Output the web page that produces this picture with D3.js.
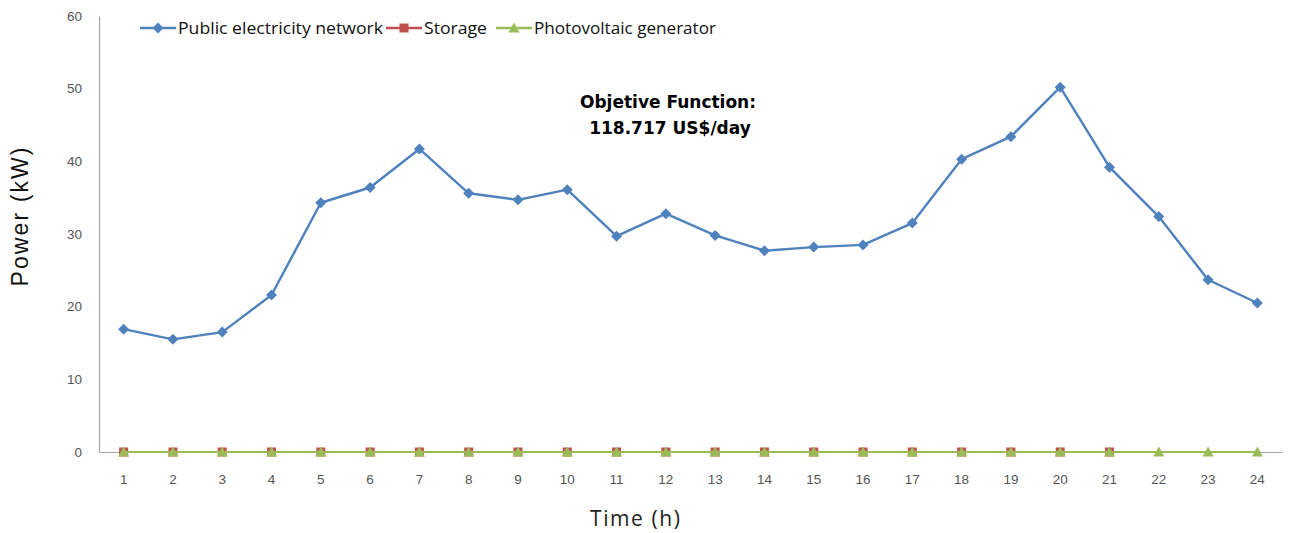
<!DOCTYPE html>
<html>
<head>
<meta charset="utf-8">
<script src="https://cdn.jsdelivr.net/npm/d3@7"></script>
<style>
  body { margin: 0; background: #fff; }
  svg { display: block; font-family: "Open Sans", "Noto Sans", sans-serif; }
</style>
</head>
<body>
<div id="chart"></div>
<script>
    "use strict";

    // hours on the x axis
    var hours = d3.range(1, 25);
    var yTicks = [0, 10, 20, 30, 40, 50, 60];

    var gridPower = [16.9, 15.5, 16.5, 21.6, 34.3, 36.4, 41.7, 35.6, 34.7, 36.1, 29.7, 32.8,
                     29.8, 27.7, 28.2, 28.5, 31.5, 40.3, 43.4, 50.2, 39.2, 32.4, 23.7, 20.5];
    var storagePower = [0, 0, 0, 0, 0, 0, 0, 0, 0, 0, 0, 0, 0, 0, 0, 0, 0, 0, 0, 0, 0];
    var pvPower = [0, 0, 0, 0, 0, 0, 0, 0, 0, 0, 0, 0, 0, 0, 0, 0, 0, 0, 0, 0, 0, 0, 0, 0];

    var seriesNames = ["Public electricity network", "Storage", "Photovoltaic generator"];

    var width = 1290,
        height = 533;
    var margin = {left: 99, right: 8, top: 16, bottom: 81};

    var svg = d3.select("#chart").append("svg")
        .attr("width", width)
        .attr("height", height);

    var x = d3.scaleBand()
        .domain(hours)
        .range([margin.left, width - margin.right])
        .padding(0);
    var y = d3.scaleLinear()
        .domain([0, 60])
        .range([height - margin.bottom, margin.top]);

    var cx = function (h) { return x(h) + x.bandwidth() / 2; };

    // marker shapes
    var diamond = "M0,-5.5L5.5,0L0,5.5L-5.5,0Z";
    var square = "M-4.5,-4.5h9v9h-9z";
    var triangle = "M0,-5.5L5.5,4.5L-5.5,4.5Z";

    // axes
    var yAxis = svg.append("g")
        .attr("transform", "translate(" + margin.left + ",0)")
        .call(d3.axisLeft(y).tickValues(yTicks).tickSize(0).tickPadding(17));
    var xAxis = svg.append("g")
        .attr("transform", "translate(0," + y(0) + ")")
        .call(d3.axisBottom(x).tickSize(0).tickPadding(22));

    [yAxis, xAxis].forEach(function (a) {
        a.select(".domain").attr("stroke", "#a6a6a6").attr("stroke-width", 1.2);
        a.selectAll("text").attr("fill", "#555").style("font-size", "13.5px");
    });

    // axis titles
    svg.append("text")
        .attr("transform", "translate(28,217) rotate(-90)")
        .attr("text-anchor", "middle")
        .style("font-family", "'Liberation Sans', Arial, sans-serif")
        .style("font-size", "23px")
        .attr("textLength", 139)
        .attr("lengthAdjust", "spacing")
        .attr("fill", "#111")
        .text("Power   (kW)");
    svg.append("text")
        .attr("x", 635)
        .attr("y", 526)
        .attr("text-anchor", "middle")
        .style("font-size", "21px")
        .attr("textLength", 90)
        .attr("lengthAdjust", "spacing")
        .attr("fill", "#222")
        .text("Time (h)");

    // series
    var line = d3.line()
        .x(function (d, i) { return cx(hours[i]); })
        .y(function (d) { return y(d); });

    svg.append("path")
        .datum(storagePower)
        .attr("fill", "none")
        .attr("stroke", "#c0504d")
        .attr("stroke-width", 2.2)
        .attr("d", line);
    svg.selectAll(".sq")
        .data(storagePower)
        .enter().append("path")
        .attr("class", "sq")
        .attr("transform", function (d, i) { return "translate(" + cx(hours[i]) + "," + y(d) + ")"; })
        .attr("d", square)
        .attr("fill", "#c0504d");

    svg.append("path")
        .datum(pvPower)
        .attr("fill", "none")
        .attr("stroke", "#9bbb59")
        .attr("stroke-width", 2.2)
        .attr("d", line);
    svg.selectAll(".tri")
        .data(pvPower)
        .enter().append("path")
        .attr("class", "tri")
        .attr("transform", function (d, i) { return "translate(" + cx(hours[i]) + "," + y(d) + ")"; })
        .attr("d", triangle)
        .attr("fill", "#9bbb59");

    svg.append("path")
        .datum(gridPower)
        .attr("fill", "none")
        .attr("stroke", "#4f81bd")
        .attr("stroke-width", 2.4)
        .attr("stroke-linejoin", "round")
        .attr("d", line);
    svg.selectAll(".dia")
        .data(gridPower)
        .enter().append("path")
        .attr("class", "dia")
        .attr("transform", function (d, i) { return "translate(" + cx(hours[i]) + "," + y(d) + ")"; })
        .attr("d", diamond)
        .attr("fill", "#4f81bd");

    // legend
    var legend = [
        {name: seriesNames[0], color: "#4f81bd", sym: diamond, x: 140, w: 205},
        {name: seriesNames[1], color: "#c0504d", sym: square, x: 386, w: 63},
        {name: seriesNames[2], color: "#9bbb59", sym: triangle, x: 496, w: 182}
    ];
    var lg = svg.selectAll(".lg")
        .data(legend)
        .enter().append("g")
        .attr("class", "lg")
        .attr("transform", function (d) { return "translate(" + d.x + ",28)"; });
    lg.append("line")
        .attr("x1", 0).attr("x2", 36)
        .attr("stroke", function (d) { return d.color; })
        .attr("stroke-width", 2.4);
    lg.append("path")
        .attr("transform", "translate(18,0)")
        .attr("d", function (d) { return d.sym; })
        .attr("fill", function (d) { return d.color; });
    lg.append("text")
        .attr("x", 38)
        .attr("dy", "0.35em")
        .style("font-size", "16.5px")
        .attr("textLength", function (d) { return d.w; })
        .attr("lengthAdjust", "spacingAndGlyphs")
        .attr("fill", "#111")
        .text(function (d) { return d.name; });

    // annotation
    var note = svg.append("text")
        .attr("text-anchor", "middle")
        .style("font-family", "'DejaVu Sans', sans-serif")
        .style("font-weight", "bold")
        .style("font-size", "17px")
        .attr("fill", "#000");
    note.append("tspan").attr("x", 668).attr("y", 108).text("Objetive Function:");
    note.append("tspan").attr("x", 670).attr("y", 134).text("118.717 US$/day");
</script>
</body>
</html>
